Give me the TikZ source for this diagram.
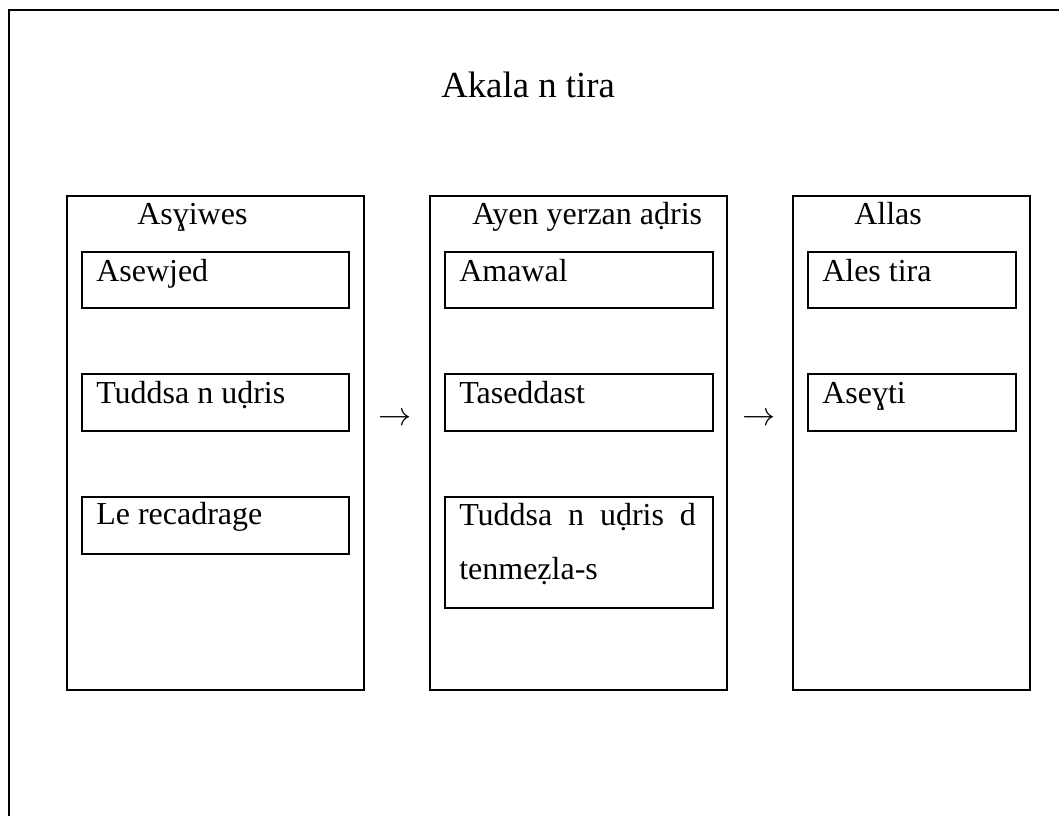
\documentclass[tikz,border=0pt]{standalone}
\usepackage{fontspec}
\setmainfont{Liberation Serif}
\begin{document}
\begin{tikzpicture}[x=0.75pt,y=-0.75pt,
  frame/.style={line width=2.2pt},
  col/.style={draw,line width=1.8pt,anchor=north west,inner sep=0pt,minimum width=#1*0.75pt,minimum height=494*0.75pt},
  item/.style={draw,line width=1.8pt,anchor=north west,inner sep=0pt,minimum width=#1*0.75pt,minimum height=57*0.75pt},
  txt/.style={anchor=base west,inner sep=0pt,font=\fontsize{24}{28}\selectfont},
  ttl/.style={anchor=base west,inner sep=0pt,font=\fontsize{27.6}{32}\selectfont},
  arr/.style={inner sep=0pt,font=\fontsize{26}{30}\selectfont}]
\useasboundingbox (0,0) rectangle (1059,816);
% outer frame (right and bottom edges lie outside the page)
\draw[frame] (1070,10) -- (9,10) -- (9,830);
% title
\node[ttl] (title) at (441,98) {Akala n tira};
% columns
\node[col=297] (c1) at (66,195) {};
\node[col=297] (c2) at (429,195) {};
\node[col=237] (c3) at (792,195) {};
% column headers
\node[txt] (h1) at (137,225) {Asɣiwes};
\node[txt] (h2) at (472,225) {Ayen yerzan aḍris};
\node[txt] (h3) at (854,225) {Allas};
% column 1 items
\node[item=267,minimum height=56*0.75pt] (a1) at (81,251) {};
\node[item=267] (a2) at (81,373) {};
\node[item=267] (a3) at (81,496) {};
\node[txt] (ta1) at (96,282) {Asewjed};
\node[txt] (ta2) at (96,403) {Tuddsa n uḍris};
\node[txt] (ta3) at (96,524) {Le recadrage};
% column 2 items
\node[item=268,minimum height=56*0.75pt] (b1) at (444,251) {};
\node[item=268] (b2) at (444,373) {};
\node[item=268,minimum height=111*0.75pt] (b3) at (444,496) {};
\node[txt] (tb1) at (459,282) {Amawal};
\node[txt] (tb2) at (459,403) {Taseddast};
\node[txt] (tb3) at (459,525) {\makebox[177.5pt][s]{Tuddsa n uḍris d}};
\node[txt] (tb3b) at (459,579) {tenmeẓla-s};
% column 3 items
\node[item=208,minimum height=56*0.75pt] (d1) at (807,251) {};
\node[item=208] (d2) at (807,373) {};
\node[txt] (td1) at (822,282) {Ales tira};
\node[txt] (td2) at (822,403) {Aseɣti};
% arrows between columns
\node[arr] (r1) at (395,419) {$\rightarrow$};
\node[arr] (r2) at (759,419) {$\rightarrow$};
\end{tikzpicture}
\end{document}
